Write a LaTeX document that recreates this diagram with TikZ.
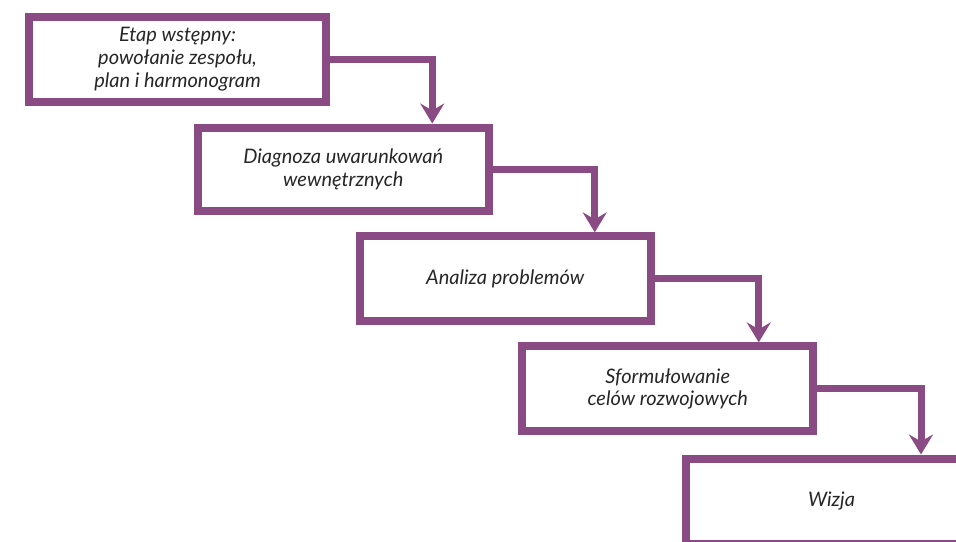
\documentclass[tikz,border=0pt]{standalone}
\usepackage{fontspec}
\setmainfont{Lato}
\usetikzlibrary{arrows.meta}
\definecolor{fiolet}{RGB}{138,74,131}
\begin{document}
\begin{tikzpicture}[x=1pt,y=-1pt,
    etap/.style={draw=fiolet, line width=8pt, rectangle, minimum width=291pt, minimum height=85pt,
        align=center, font=\fontsize{20}{22.8}\selectfont\itshape, text=black!85},
    link/.style={draw=fiolet, line width=7pt, -{Stealth[length=20pt,width=24pt,inset=7pt]}}]
    \useasboundingbox (0,0) rectangle (956,541);

\node[etap, minimum width=297pt] (e1) at (177.5,59.25) {Etap wstępny:\\powołanie zespołu,\\plan i harmonogram};
\node[etap, minimum height=83.5pt] (e2) at (343.25,169.25) {Diagnoza uwarunkowań\\wewnętrznych};
\node[etap] (e3) at (505.25,278.85) {Analiza problemów};
\node[etap] (e4) at (667.75,388.85) {Sformułowanie\\celów rozwojowych};
\node[etap] (e5) at (831.5,501) {Wizja};

\draw[link] (e1.east) -| ([xshift=238.5pt]e2.north west);
\draw[link] (e2.east) -| ([xshift=239pt]e3.north west);
\draw[link] (e3.east) -| ([xshift=240.5pt]e4.north west);
\draw[link] (e4.east) -| ([xshift=239pt]e5.north west);

\end{tikzpicture}
\end{document}
